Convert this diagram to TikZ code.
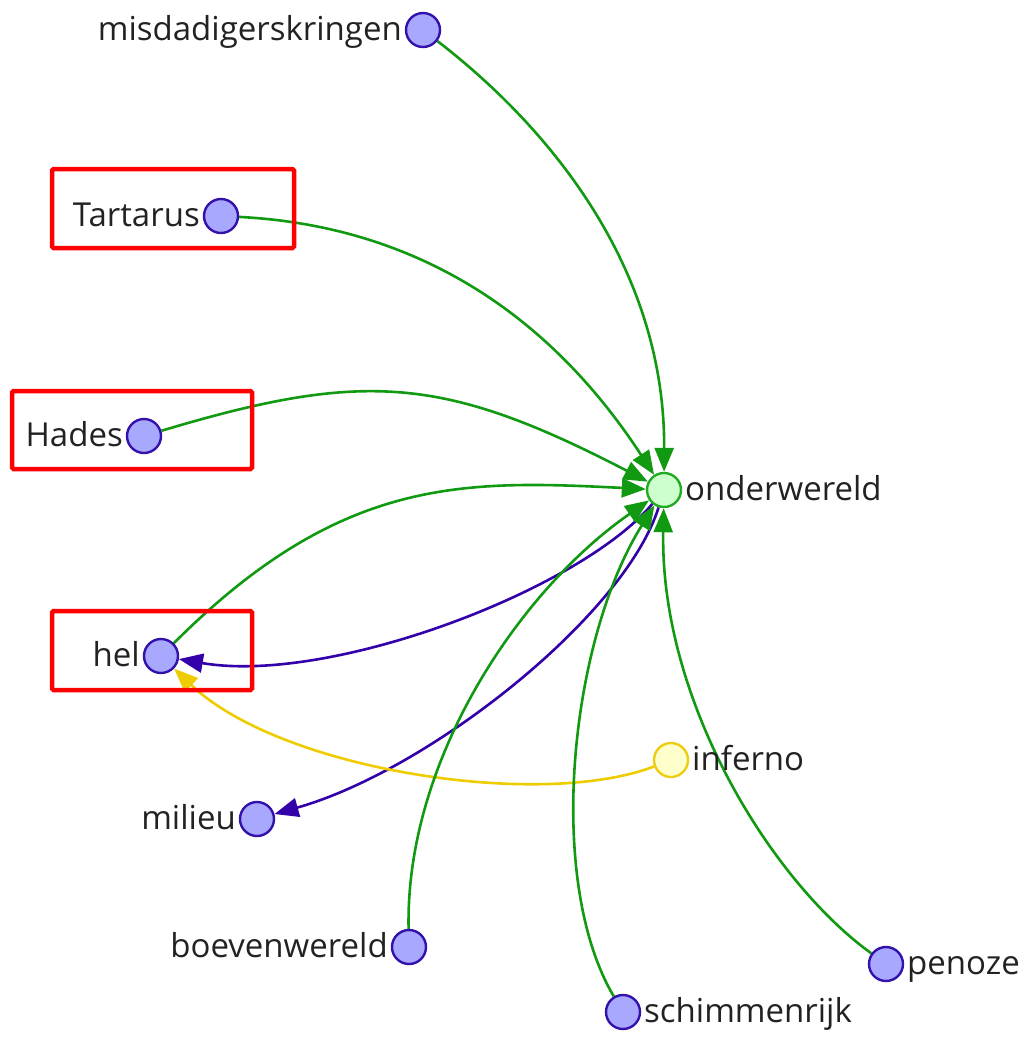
\documentclass[tikz,border=0pt]{standalone}
\usepackage{fontspec}
\setmainfont{Open Sans}
\usetikzlibrary{arrows.meta,backgrounds}
\definecolor{nfill}{RGB}{168,168,255}
\definecolor{ndraw}{RGB}{51,17,170}
\definecolor{gfill}{RGB}{204,255,204}
\definecolor{gdraw}{RGB}{34,170,34}
\definecolor{yfill}{RGB}{255,255,204}
\definecolor{ydraw}{RGB}{238,204,17}
\definecolor{gedgec}{RGB}{17,153,17}
\definecolor{pedgec}{RGB}{51,0,170}
\definecolor{yedgec}{RGB}{238,204,0}
\definecolor{txt}{RGB}{34,34,34}
\tikzset{
  vtx/.style={circle, minimum size=34pt, inner sep=0pt, line width=2.4pt, draw=ndraw, fill=nfill},
  vgreen/.style={vtx, draw=gdraw, fill=gfill},
  vyellow/.style={vtx, draw=ydraw, fill=yfill},
  lbl/.style={font=\fontsize{33}{40}\selectfont, text=txt, inner sep=0pt},
  lleft/.style={lbl, anchor=base east},
  lright/.style={lbl, anchor=base west},
  edgebase/.style={line width=2.6pt, -{Triangle[length=24pt,width=19pt]}},
  gedge/.style={edgebase, color=gedgec},
  pedge/.style={edgebase, color=pedgec},
  yedge/.style={edgebase, color=yedgec},
  redbox/.style={draw=red, line width=4.5pt, rounded corners=1.5pt}
}
\begin{document}
\begin{tikzpicture}[x=1pt, y=-1pt]
\useasboundingbox (0,0) rectangle (1028,1037);
% nodes
\node[vtx] (mis) at (423,30) {};
\node[vtx] (tar) at (221,216) {};
\node[vtx] (had) at (144,436) {};
\node[vgreen] (ond) at (664,490) {};
\node[vtx] (hel) at (161,656) {};
\node[vyellow] (inf) at (671,760) {};
\node[vtx] (mil) at (257,819) {};
\node[vtx] (boe) at (409,947) {};
\node[vtx] (sch) at (623,1012) {};
\node[vtx] (pen) at (886,964) {};
% labels
\node[lleft] (misL) at ([shift={(-21,10)}]mis.center) {misdadigerskringen};
\node[lleft] (tarL) at ([shift={(-21,10)}]tar.center) {Tartarus};
\node[lleft] (hadL) at ([shift={(-21,10)}]had.center) {Hades};
\node[lright] (ondL) at ([shift={(21,10)}]ond.center) {onderwereld};
\node[lleft] (helL) at ([shift={(-21,10)}]hel.center) {hel};
\node[lright] (infL) at ([shift={(21,10)}]inf.center) {inferno};
\node[lleft] (milL) at ([shift={(-21,10)}]mil.center) {milieu};
\node[lleft] (boeL) at ([shift={(-21,10)}]boe.center) {boevenwereld};
\node[lright] (schL) at ([shift={(21,10)}]sch.center) {schimmenrijk};
\node[lright] (penL) at ([shift={(21,10)}]pen.center) {penoze};
% edges
\begin{pgfonlayer}{background}
\draw[gedge] (mis) .. controls (540,120) and (665,260) .. (ond);
\draw[gedge] (tar) .. controls (400,225) and (540,300) .. (ond);
\draw[gedge] (had) .. controls (364,370) and (444,376) .. (ond);
\draw[gedge] (hel) .. controls (341,476) and (464,480) .. (ond);
\draw[pedge] (ond) .. controls (580,590) and (330,685) .. (hel);
\draw[pedge] (ond) .. controls (625,615) and (430,770) .. (mil);
\draw[yedge] (inf) .. controls (540,810) and (280,770) .. (hel);
\draw[gedge] (boe) .. controls (405,760) and (520,590) .. (ond);
\draw[gedge] (sch) .. controls (545,880) and (570,640) .. (ond);
\draw[gedge] (pen) .. controls (770,880) and (660,700) .. (ond);
\end{pgfonlayer}
% red boxes
\draw[redbox] (52,169) rectangle (294,248);
\draw[redbox] (12,391) rectangle (252,469);
\draw[redbox] (52,611) rectangle (252,690);
\end{tikzpicture}
\end{document}
